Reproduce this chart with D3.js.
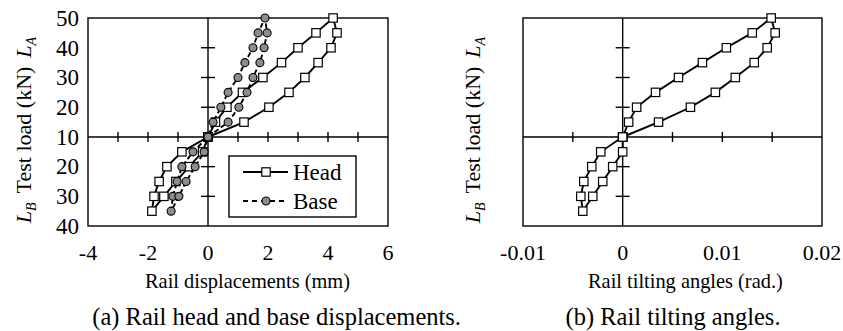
<!DOCTYPE html>
<html><head><meta charset="utf-8">
<script src="https://cdn.jsdelivr.net/npm/d3@7"></script>
<style>body{margin:0;background:#fff}svg{display:block}</style>
</head><body>
<svg id="c" width="843" height="331" style="font-family:'Liberation Serif',serif"></svg>
<script>
// Signed load: positive = L_A (kN), negative = L_B (kN); origin is 10 kN
const headLoad = [10,15,20,25,30,35,40,45,50,45,40,35,30,25,20,15,10,-15,-20,-25,-30,-35,-30,-25,-20,-15,10];
const headDisp = [0,1.2,2.03,2.7,3.23,3.67,4.1,4.3,4.17,3.6,3.0,2.45,1.83,1.15,0.63,0.25,0,-0.87,-1.37,-1.63,-1.8,-1.87,-1.47,-1.07,-0.63,-0.18,0];
const baseLoad = [10,15,20,25,30,35,40,45,50,45,40,35,30,25,20,15,10,-15,-20,-25,-30,-35,-30,-25,-20,-15,10];
const baseDisp = [0,0.67,1.03,1.3,1.5,1.73,1.87,1.97,1.9,1.67,1.5,1.23,1.0,0.67,0.43,0.17,0,-0.5,-0.87,-1.03,-1.17,-1.23,-0.97,-0.73,-0.43,-0.13,0];
const tiltLoad = [10,15,20,25,30,35,40,45,50,45,40,35,30,25,20,15,10,-15,-20,-25,-30,-35,-30,-25,-20,-15,10];
const tiltAngle = [0,0.0036,0.0068,0.0093,0.0113,0.0132,0.0145,0.0153,0.0149,0.013,0.0104,0.008,0.0056,0.0033,0.0014,0.0006,0,-0.0022,-0.0031,-0.0039,-0.0042,-0.004,-0.003,-0.002,-0.001,0.0,0];
const yTickLabels = [50,40,30,20,10,-20,-30,-40];
const yMinorTicks = [40,30,20,-20,-30];
const dispTickLabels = [-4,-2,0,2,4,6];
const dispMinorTicks = [-3,-2,-1,1,2,3,4,5];
const tiltTickLabels = [-0.01,0,0.01,0.02];
const tiltMinorTicks = [-0.005,0.005,0.01,0.015];
const seriesNames = ["Head","Base"];

const FONT = "'Liberation Serif', serif";
const svg = d3.select("#c");
const y = d3.scaleLinear().domain([-40,-10,10,50]).range([226,137,137,18]);
const xL = d3.scaleLinear().domain([-4,6]).range([88,388]);
const xR = d3.scaleLinear().domain([-0.01,0.02]).range([523,822]);

function txt(g){ return g.append("text").style("font-family",FONT).attr("fill","#000"); }

function panel(x, minor, labels, fmt, showYLabels, title, titleX, caption, capX, capAnchor, labelX) {
  const g = svg.append("g");
  const [x0,x1] = x.range();
  g.append("rect").attr("x",x0).attr("y",y(50)).attr("width",x1-x0).attr("height",y(-40)-y(50))
    .attr("fill","none").attr("stroke","#000").attr("stroke-width",1.4);
  g.append("line").attr("x1",x0).attr("x2",x1).attr("y1",y(10)).attr("y2",y(10)).attr("stroke","#000").attr("stroke-width",1.4);
  g.append("line").attr("x1",x(0)).attr("x2",x(0)).attr("y1",y(50)).attr("y2",y(-40)).attr("stroke","#000").attr("stroke-width",1.4);
  minor.forEach(v=>g.append("line").attr("x1",x(v)).attr("x2",x(v)).attr("y1",y(10)-5).attr("y2",y(10)+5).attr("stroke","#000").attr("stroke-width",1.4));
  yMinorTicks.forEach(v=>g.append("line").attr("x1",x(0)-7).attr("x2",x(0)+7).attr("y1",y(v)).attr("y2",y(v)).attr("stroke","#000").attr("stroke-width",1.4));
  labels.forEach(v=>txt(g).attr("x",x(v)).attr("y",260).attr("text-anchor","middle").style("font-size","22px").text(fmt(v)));
  if (showYLabels) yTickLabels.forEach(v=>txt(g).attr("x",x0-9).attr("y",y(v)).attr("dy","0.34em").attr("text-anchor","end").style("font-size","23px").text(Math.abs(v)));
  txt(g).attr("x",titleX).attr("y",288).attr("text-anchor","start").style("font-size","20.4px").text(title);
  txt(g).attr("x",capX).attr("y",325).attr("text-anchor",capAnchor).style("font-size","24.5px").text(caption);
  const t = txt(g).attr("transform",`translate(${labelX},130) rotate(-90)`).attr("text-anchor","middle").style("font-size","22px");
  t.append("tspan").style("font-style","italic").text("L");
  t.append("tspan").style("font-style","italic").style("font-size","14px").attr("dy",5).text("B");
  t.append("tspan").attr("dy",-5).attr("dx",9).text("Test load (kN)");
  t.append("tspan").attr("dx",9).style("font-style","italic").text("L");
  t.append("tspan").style("font-style","italic").style("font-size","14px").attr("dy",5).text("A");
  return g;
}

const gL = panel(xL, dispMinorTicks, dispTickLabels, v=>String(v), true, "Rail displacements (mm)", 145, "(a) Rail head and base displacements.", 461, "end", 31);
const gR = panel(xR, tiltMinorTicks, tiltTickLabels, v=>v===0?"0":String(v), false, "Rail tilting angles (rad.)", 588, "(b) Rail tilting angles.", 673, "middle", 480);

function drawSeries(g, x, xs, loads, marker, dash) {
  const pts = xs.map((v,i)=>[x(v), y(loads[i])]);
  g.append("path").attr("d", d3.line()(pts)).attr("fill","none").attr("stroke","#000").attr("stroke-width",1.9)
    .attr("stroke-dasharray", dash || null);
  if (marker === "square") {
    g.selectAll(null).data(pts).enter().append("rect").attr("x",d=>d[0]-4.2).attr("y",d=>d[1]-4.2).attr("width",8.4).attr("height",8.4)
      .attr("fill","#fff").attr("stroke","#000").attr("stroke-width",1.2);
  } else {
    g.selectAll(null).data(pts).enter().append("circle").attr("cx",d=>d[0]).attr("cy",d=>d[1]).attr("r",4)
      .attr("fill","#8c8c8c").attr("stroke","#000").attr("stroke-width",1.1);
  }
}
drawSeries(gL, xL, headDisp, headLoad, "square");
drawSeries(gL, xL, baseDisp, baseLoad, "circle", "5,3");
drawSeries(gR, xR, tiltAngle, tiltLoad, "square");

const lg = svg.append("g");
lg.append("rect").attr("x",229).attr("y",156).attr("width",127).attr("height",61).attr("fill","#fff").attr("stroke","#000").attr("stroke-width",1.4);
[[172,null,"square"],[201,"5,4","circle"]].forEach((r,i)=>{
  lg.append("line").attr("x1",243).attr("x2",288).attr("y1",r[0]).attr("y2",r[0]).attr("stroke","#000").attr("stroke-width",1.9).attr("stroke-dasharray",r[1]);
  if (r[2]==="square") lg.append("rect").attr("x",261.8).attr("y",r[0]-4.2).attr("width",8.4).attr("height",8.4).attr("fill","#fff").attr("stroke","#000").attr("stroke-width",1.2);
  else lg.append("circle").attr("cx",266).attr("cy",r[0]).attr("r",4).attr("fill","#8c8c8c").attr("stroke","#000").attr("stroke-width",1.1);
  txt(lg).attr("x",293).attr("y",r[0]).attr("dy","0.34em").style("font-size","23px").text(seriesNames[i]);
});
</script>
</body></html>
